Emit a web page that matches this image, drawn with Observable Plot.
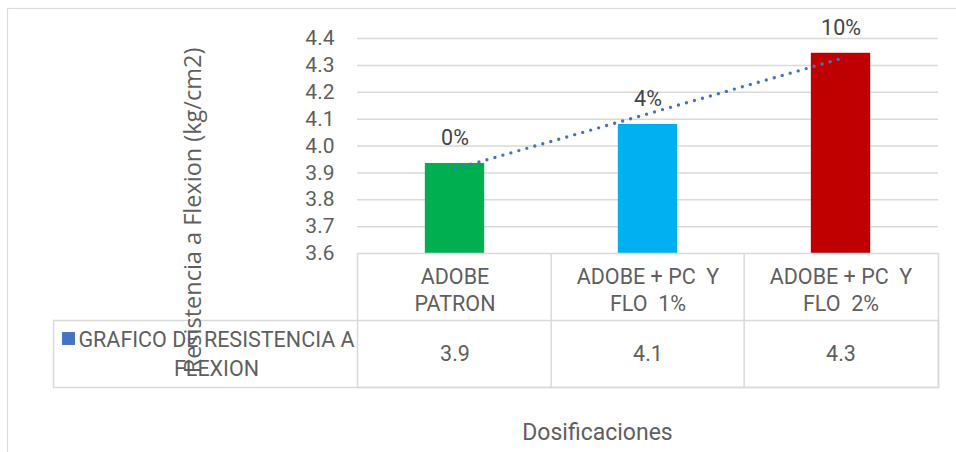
<!DOCTYPE html>
<html>
<head>
<meta charset="utf-8">
<script src="https://cdn.jsdelivr.net/npm/d3@7"></script>
<script src="https://cdn.jsdelivr.net/npm/@observablehq/plot@0.6"></script>
<style>
  html, body { margin: 0; padding: 0; background: #ffffff; }
  #chart svg text { white-space: pre; }
</style>
</head>
<body>
<div id="chart"></div>
<script>
// Flexural strength of adobe mixes by dosage
const categories = ["ADOBE PATRON", "ADOBE + PC  Y FLO  1%", "ADOBE + PC  Y FLO  2%"];
const categoryLabels = ["ADOBE\nPATRON", "ADOBE + PC  Y\nFLO  1%", "ADOBE + PC  Y\nFLO  2%"];
const resistance = [3.935, 4.08, 4.345];
const increaseLabels = ["0%", "4%", "10%"];
const barColors = ["#00B050", "#00B0F0", "#C00000"];
const yTicks = [3.6, 3.7, 3.8, 3.9, 4.0, 4.1, 4.2, 4.3, 4.4];
const seriesName = "GRAFICO DE RESISTENCIA A\nFLEXION";
const yTitle = "Resistencia a Flexion (kg/cm2)";
const xTitle = "Dosificaciones";

// Layout
const W = 956, H = 452;
const mL = 357, mR = 18, mT = 38, mB = 199;
const bandW = (W - mL - mR) / categories.length;
const barW = 60;
const barInset = (bandW - barW) / 2;
const rowH = 67;              // height of each data-table row
const frameH = H - mT - mB;   // plot-area height
const yMin = yTicks[0];
const grey = "#d9d9d9";
const textGrey = "#5f5f5f";
const font = "Roboto";

const rows = categories.map((c, i) => ({
  category: c,
  label: categoryLabels[i],
  value: resistance[i],
  pct: increaseLabels[i]
}));

// Linear trend line (least squares over category index)
const n = resistance.length;
const xMean = (n - 1) / 2;
const yMean = d3.mean(resistance);
const slope = d3.sum(resistance, (v, i) => (i - xMean) * (v - yMean)) /
              d3.sum(resistance, (v, i) => (i - xMean) ** 2);
const trend = categories.map((c, i) => ({category: c, value: yMean + slope * (i - xMean)}));

const fmt = d3.format(".1f");

const chart = Plot.plot({
  width: W,
  height: H,
  marginLeft: mL,
  marginRight: mR,
  marginTop: mT,
  marginBottom: mB,
  style: {fontFamily: font, fontSize: "21px", color: textGrey, background: "#ffffff"},
  x: {domain: categories, padding: 0, axis: null},
  y: {domain: [yTicks[0], yTicks[yTicks.length - 1]], ticks: yTicks, tickFormat: fmt,
      tickSize: 0, tickPadding: 23, label: null},
  color: {domain: categories, range: barColors},
  marks: [
    // outer chart border
    Plot.frame({stroke: grey, strokeWidth: 1.2,
      insetTop: 8 - mT, insetLeft: 7 - mL, insetRight: -40, insetBottom: -mB - 40}),
    // horizontal gridlines
    Plot.ruleY(yTicks.slice(1), {stroke: grey, strokeWidth: 1.5}),
    // bars
    Plot.barY(rows, {x: "category", y1: yMin, y2: "value", fill: "category",
      insetLeft: barInset, insetRight: barInset}),
    // dotted linear trend
    Plot.line(trend, {x: "category", y: "value", stroke: "#4472C4", strokeWidth: 3.4,
      strokeDasharray: "0 8.3", strokeLinecap: "round"}),
    // percentage increase above each bar
    Plot.text(rows, {x: "category", y: "value", text: "pct", dy: -25, lineAnchor: "middle",
      fill: "#444444", fontSize: 21.5, fontFamily: font}),
    // data table: header row + value row (columns follow the x bands)
    Plot.frame({stroke: grey, strokeWidth: 1.5, insetTop: frameH, insetBottom: -2 * rowH}),
    Plot.frame({stroke: grey, strokeWidth: 1.5, insetTop: frameH + rowH,
      insetBottom: -2 * rowH, insetLeft: 53 - mL}),
    Plot.ruleX(categories.slice(1), {x: d => d, dx: -bandW / 2, stroke: grey, strokeWidth: 1.5,
      insetTop: frameH, insetBottom: -2 * rowH}),
    Plot.text(rows, {x: "category", frameAnchor: "bottom", text: "label", dy: 35.5,
      lineAnchor: "middle", lineHeight: 1.26, fill: textGrey, fontSize: 21.5, fontFamily: font}),
    Plot.text(rows, {x: "category", frameAnchor: "bottom", text: d => fmt(d.value), dy: rowH * 1.5,
      lineAnchor: "middle", fill: textGrey, fontSize: 21.5, fontFamily: font}),
    // series legend cell of the data table
    Plot.dot([seriesName], {frameAnchor: "bottom-left", dx: 68 - mL, dy: 85, symbol: "square",
      r: 7.3, fill: "#4472C4", stroke: null}),
    Plot.text([seriesName], {frameAnchor: "bottom-left", text: d => d, dx: 216 - mL, dy: 99,
      textAnchor: "middle", lineAnchor: "middle", lineHeight: 1.33, fill: textGrey,
      fontSize: 21.5, fontFamily: font}),
    // axis titles
    Plot.text([yTitle], {frameAnchor: "left", text: d => d, rotate: -90, dx: 193 - mL,
      dy: 210 - (mT + frameH / 2), lineAnchor: "middle", textAnchor: "middle",
      fill: textGrey, fontSize: 23.5, fontFamily: "Open Sans"}),
    Plot.text([xTitle], {frameAnchor: "bottom", text: d => d, dx: 597 - (mL + (W - mL - mR) / 2),
      dy: 432 - (mT + frameH), lineAnchor: "middle", fill: textGrey, fontSize: 23, fontFamily: font})
  ]
});

document.getElementById("chart").appendChild(chart);
</script>
</body>
</html>
